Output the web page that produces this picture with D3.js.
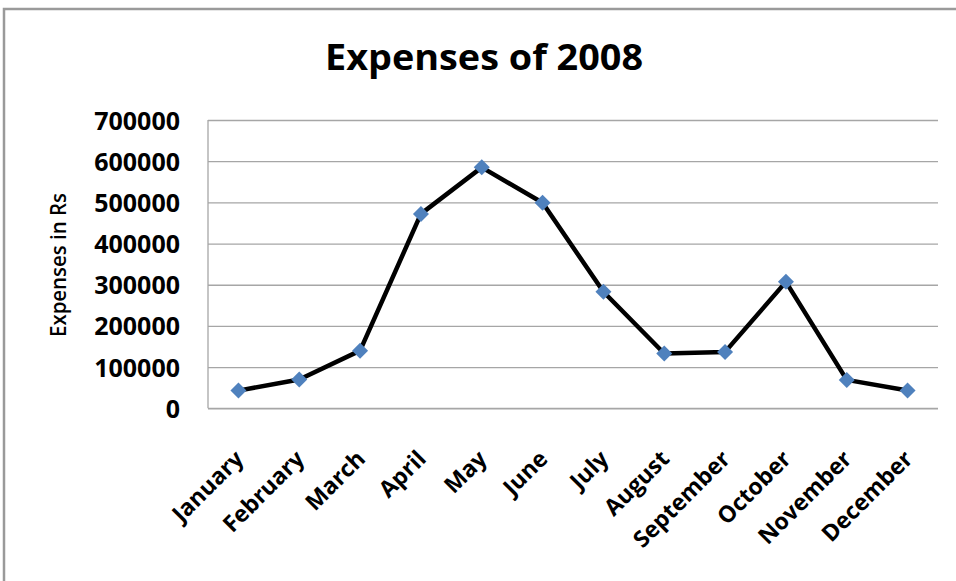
<!DOCTYPE html>
<html>
<head>
<meta charset="utf-8">
<script src="https://cdn.jsdelivr.net/npm/d3@7"></script>
<style>
  html, body { margin: 0; padding: 0; background: #ffffff; }
  svg { display: block; }
  text { font-family: "Open Sans", "Noto Sans", sans-serif; fill: #000; }
</style>
</head>
<body>
<svg id="chart" width="956" height="581"></svg>
<script>
// Monthly expenses for 2008 (Rs)
const months = ["January", "February", "March", "April", "May", "June",
                "July", "August", "September", "October", "November", "December"];
const expenses = [43000, 70000, 140000, 472000, 585000, 499000,
                  283000, 133000, 137000, 307000, 69000, 43000];
const yTicks = [0, 100000, 200000, 300000, 400000, 500000, 600000, 700000];
const chartTitle = "Expenses of 2008";
const yTitle = "Expenses in Rs";

const svg = d3.select("#chart");
const W = 956, H = 581;
const plot = { left: 208, right: 938, top: 120, bottom: 408.3 };

// Outer frame (top and left edges)
svg.append("path")
  .attr("d", `M4,${H} L4,9 L${W},9`)
  .attr("fill", "none")
  .attr("stroke", "#9a9a9a")
  .attr("stroke-width", 2.5);

const x = d3.scalePoint().domain(months).range([plot.left, plot.right]).padding(0.5);
const y = d3.scaleLinear().domain([0, 700000]).range([plot.bottom, plot.top]);

// Horizontal gridlines + y tick labels
const yAxis = d3.axisLeft(y).tickValues(yTicks).tickFormat(d3.format("d"))
  .tickSize(-(plot.right - plot.left)).tickPadding(28);
const gy = svg.append("g").attr("transform", `translate(${plot.left},0)`).call(yAxis);
gy.select(".domain").remove();
gy.selectAll(".tick line").attr("stroke", "#a6a6a6").attr("stroke-width", 1.3);
gy.selectAll(".tick text")
  .attr("font-size", 25).attr("font-weight", 700)
  .attr("font-family", "'Open Sans', sans-serif")
  .attr("dy", "0.36em");

// Left axis line
svg.append("line")
  .attr("x1", plot.left).attr("x2", plot.left)
  .attr("y1", y(700000)).attr("y2", y(0))
  .attr("stroke", "#a6a6a6").attr("stroke-width", 1.3);

// X axis category labels
const xAxis = d3.axisBottom(x).tickSize(0).tickPadding(0);
const gx = svg.append("g").attr("transform", `translate(0,${plot.bottom})`).call(xAxis);
gx.select(".domain").attr("stroke", "#a6a6a6").attr("stroke-width", 1.3)
  .attr("d", `M${plot.left},0H${plot.right}`);
gx.selectAll(".tick text")
  .attr("font-size", 23).attr("font-weight", 700)
  .attr("font-family", "'Open Sans', sans-serif")
  .attr("text-anchor", "end")
  .attr("y", 0).attr("dy", 0)
  .attr("transform", "translate(6,52) rotate(-45)");

// Line
const line = d3.line().x((d, i) => x(months[i])).y(d => y(d));
svg.append("path")
  .datum(expenses)
  .attr("d", line)
  .attr("fill", "none")
  .attr("stroke", "#000")
  .attr("stroke-width", 4.5)
  .attr("stroke-linejoin", "round");

// Diamond markers
const diamond = d3.symbol().type(d3.symbolSquare).size(128);
svg.append("g").selectAll("path")
  .data(expenses)
  .join("path")
  .attr("d", diamond)
  .attr("transform", (d, i) => `translate(${x(months[i])},${y(d)}) rotate(45)`)
  .attr("fill", "#4f81bd");

// Title
svg.append("text")
  .attr("x", 484).attr("y", 70)
  .attr("text-anchor", "middle")
  .attr("font-size", 36).attr("font-weight", 700)
  .attr("textLength", 318).attr("lengthAdjust", "spacingAndGlyphs")
  .text(chartTitle);

// Y axis title
svg.append("text")
  .attr("transform", "translate(66,265) rotate(-90)")
  .attr("text-anchor", "middle")
  .attr("font-size", 21).attr("font-weight", 600)
  .attr("textLength", 144).attr("lengthAdjust", "spacingAndGlyphs")
  .text(yTitle);
</script>
</body>
</html>
